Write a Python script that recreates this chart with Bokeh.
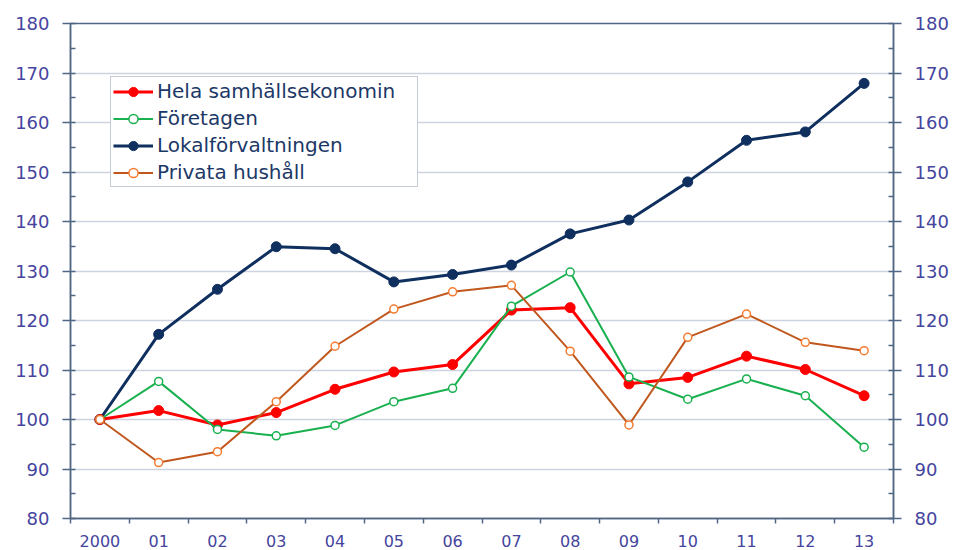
import numpy as np
from bokeh.plotting import figure
from bokeh.models import (Range1d, LinearAxis, FixedTicker, SingleIntervalTicker, Legend, LegendItem)
from bokeh.embed import file_html
from bokeh.resources import INLINE

# ---- data ----
years = ["2000", "01", "02", "03", "04", "05", "06", "07", "08", "09", "10", "11", "12", "13"]
hela = [100, 101.8, 98.9, 101.4, 106.1, 109.6, 111.1, 122.1, 122.6, 107.2, 108.5, 112.8, 110.1, 104.8]
foretagen = [100, 107.7, 98.0, 96.7, 98.8, 103.6, 106.3, 122.9, 129.8, 108.6, 104.1, 108.2, 104.8, 94.4]
lokal = [100, 117.2, 126.3, 134.9, 134.5, 127.8, 129.3, 131.2, 137.5, 140.3, 148.0, 156.4, 158.1, 167.9]
privata = [100, 91.3, 93.5, 103.6, 114.8, 122.3, 125.8, 127.1, 113.8, 98.9, 116.6, 121.3, 115.6, 113.9]
y_min, y_max = 80, 180

# category index positions (one slot per year)
xi = np.arange(len(years))

# ---- style ----
AX = "#4f6785"
LBL = "#45459e"
GRID = "#cdd3df"
FONT = "DejaVu Sans"

p = figure(width=953, height=550, x_range=Range1d(-0.5, len(years) - 0.5),
           y_range=Range1d(y_min, y_max),
           output_backend="svg", toolbar_location=None, x_axis_location=None,
           min_border_left=70, min_border_right=60, min_border_top=23, min_border_bottom=32)
p.background_fill_color = "white"
p.border_fill_color = "white"
p.outline_line_color = AX
p.outline_line_width = 1.5

# boundary ticks on the x axis (between categories)
bticks = [float(v) for v in (np.arange(len(years) + 1) - 0.5)]
bax = LinearAxis(ticker=FixedTicker(ticks=bticks),
                 major_tick_out=5, major_tick_in=0, minor_tick_out=0, minor_tick_in=0,
                 major_label_standoff=-4, axis_line_color=AX, axis_line_width=1.5,
                 major_tick_line_color=AX, major_tick_line_width=1.5,
                 major_label_text_font_size="1px")
bax.major_label_overrides = {t: "" for t in bticks}
p.add_layout(bax, "below")

# category labels at slot centres
cax = LinearAxis(ticker=FixedTicker(ticks=[int(v) for v in xi]),
                 major_tick_out=0, major_tick_in=0, minor_tick_out=0, minor_tick_in=0,
                 axis_line_color=None, major_label_standoff=11, major_label_text_font=FONT,
                 major_label_text_font_size="16px", major_label_text_color=LBL)
cax.major_label_overrides = {int(i): y for i, y in zip(xi, years)}
p.add_layout(cax, "below")

# y axes
yt = SingleIntervalTicker(interval=10, num_minor_ticks=2)
rax = LinearAxis()
p.add_layout(rax, "right")
for ax in [p.yaxis[0], rax]:
    ax.ticker = yt
    ax.major_tick_out = 8
    ax.major_tick_in = 0
    ax.minor_tick_in = 5
    ax.minor_tick_out = 0
    ax.axis_line_color = AX
    ax.axis_line_width = 1.5
    ax.major_tick_line_color = AX
    ax.major_tick_line_width = 1.5
    ax.minor_tick_line_color = AX
    ax.minor_tick_line_width = 1.5
    ax.major_label_text_font = FONT
    ax.major_label_text_font_size = "18px"
    ax.major_label_text_color = LBL
    ax.major_label_standoff = 13

p.ygrid.ticker = yt
p.ygrid.grid_line_color = GRID
p.ygrid.grid_line_width = 1.5
p.xgrid.visible = False


def series(vals, lcolor, lw, mcolor, mfill, msize, mlw):
    rl = p.line(xi, vals, line_color=lcolor, line_width=lw)
    rs = p.scatter(xi, vals, marker="circle", size=msize, line_color=mcolor,
                   fill_color=mfill, line_width=mlw)
    return [rl, rs]


r_lok = series(lokal, "#0f2f5f", 3, "#0f2f5f", "#0f2f5f", 10, 1)
r_hel = series(hela, "#ff0000", 3, "#ff0000", "#ff0000", 10, 1)
r_for = series(foretagen, "#19b04f", 2, "#19b04f", "white", 8, 1.5)
r_pri = series(privata, "#c0581e", 2, "#f47b30", "white", 8, 1.5)

legend = Legend(items=[
    LegendItem(label="Hela samhällsekonomin", renderers=r_hel),
    LegendItem(label="Företagen", renderers=r_for),
    LegendItem(label="Lokalförvaltningen", renderers=r_lok),
    LegendItem(label="Privata hushåll", renderers=r_pri),
], location=(40, 331), margin=0, padding=2, spacing=3,
    glyph_width=40, glyph_height=23, label_height=23, label_width=258, label_standoff=4,
    label_text_font=FONT, label_text_font_size="20px", label_text_color="#1c3866",
    border_line_color="#8a9ab0", border_line_width=1.5,
    background_fill_color="white", background_fill_alpha=1)
p.add_layout(legend)

open("out.html", "w").write(file_html(p, INLINE))
